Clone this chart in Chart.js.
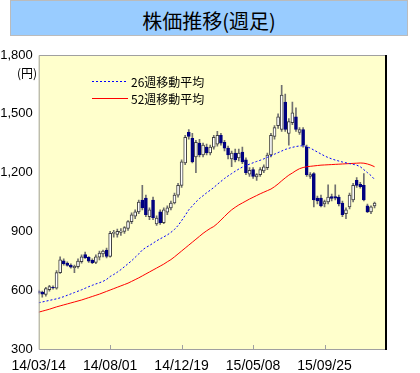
<!DOCTYPE html>
<html>
<head>
<meta charset="utf-8">
<script src="https://cdn.jsdelivr.net/npm/chart.js@4/dist/chart.umd.min.js"></script>
<style>
    body { margin: 0; background: #ffffff; }
    #wrap { position: relative; width: 420px; height: 373px; }
    #chart { position: absolute; left: 0; top: 0; }
    #title {
        position: absolute; left: 10px; top: 0; width: 396px; height: 34px;
        background: #99CCFF; border: 1px solid #BBBBBB;
        font: 20px "Noto Sans CJK JP", sans-serif; color: #000;
        text-align: center; line-height: 40px;
    }
</style>
</head>
<body>
<div id="wrap">
    <canvas id="chart" width="420" height="373"></canvas>
    <div id="title">株価推移(週足)</div>
</div>
<script>
// 週足データ(週番号 = 配列の添字)
const opens  = [595, 590, 578, 603, 615, 610, 690, 750, 738, 728,
                715, 720, 745, 782, 768, 752, 742, 768, 785, 805,
                772, 890, 885, 895, 900, 915, 950, 978, 1000, 1060,
                1070, 975, 1060, 938, 1000, 945, 998, 1020, 1045, 1085,
                1135, 1250, 1405, 1375, 1280, 1350, 1290, 1330, 1300, 1330,
                1345, 1390, 1355, 1325, 1270, 1300, 1275, 1305, 1265, 1192,
                1215, 1178, 1190, 1208, 1225, 1290, 1385, 1440, 1420, 1560,
                1400, 1455, 1485, 1405, 1420, 1330, 1180, 1195, 1070, 1070,
                1040, 1050, 1078, 1078, 1075, 1045, 990, 1025, 1060, 1160,
                1140, 1135, 1030, 1000, 1030];
const highs  = [600, 595, 615, 625, 622, 700, 770, 760, 745, 735,
                728, 760, 780, 795, 772, 760, 780, 800, 805, 815,
                900, 905, 912, 915, 925, 955, 995, 1010, 1060, 1135,
                1085, 1020, 1075, 980, 1010, 1020, 1030, 1055, 1095, 1145,
                1265, 1390, 1420, 1400, 1365, 1370, 1350, 1345, 1340, 1390,
                1410, 1400, 1365, 1335, 1310, 1320, 1320, 1330, 1275, 1225,
                1225, 1195, 1225, 1240, 1300, 1400, 1440, 1500, 1645, 1600,
                1475, 1560, 1530, 1430, 1430, 1340, 1200, 1200, 1080, 1085,
                1060, 1137, 1090, 1137, 1085, 1055, 1020, 1095, 1145, 1175,
                1150, 1195, 1040, 1030, 1050];
const lows   = [580, 565, 570, 595, 605, 605, 685, 728, 722, 712,
                690, 712, 738, 762, 742, 735, 735, 755, 770, 765,
                768, 870, 870, 880, 890, 905, 940, 965, 990, 1010,
                975, 960, 960, 930, 935, 940, 985, 1010, 1040, 1075,
                1125, 1240, 1370, 1250, 1200, 1280, 1280, 1290, 1290, 1320,
                1335, 1340, 1310, 1270, 1230, 1255, 1260, 1245, 1190, 1180,
                1170, 1160, 1180, 1200, 1215, 1280, 1370, 1425, 1410, 1410,
                1340, 1445, 1410, 1395, 1330, 1180, 1170, 1025, 1040, 1025,
                1025, 1040, 1055, 1060, 1030, 975, 965, 1015, 1050, 1125,
                1120, 1055, 995, 990, 1020];
const closes = [585, 580, 608, 618, 612, 690, 755, 735, 726, 718,
                722, 748, 770, 765, 748, 740, 770, 790, 800, 772,
                890, 895, 900, 902, 920, 950, 985, 1000, 1050, 1020,
                985, 1010, 970, 968, 945, 1010, 1020, 1045, 1085, 1135,
                1255, 1380, 1385, 1255, 1355, 1290, 1340, 1300, 1330, 1380,
                1390, 1350, 1325, 1290, 1300, 1265, 1300, 1255, 1200, 1212,
                1180, 1190, 1215, 1230, 1290, 1390, 1430, 1485, 1595, 1420,
                1460, 1505, 1420, 1420, 1340, 1190, 1190, 1060, 1055, 1030,
                1052, 1075, 1068, 1070, 1040, 985, 1010, 1085, 1135, 1135,
                1128, 1060, 1000, 1025, 1045];

// 移動平均
const ma26 = [536, 540, 544, 548, 552, 556, 561, 567, 574, 581,
              588, 595, 602, 610, 618, 625, 632, 638, 645, 655,
              670, 680, 692, 705, 720, 735, 750, 768, 785, 805,
              818, 828, 840, 852, 862, 872, 882, 895, 910, 930,
              955, 982, 1010, 1030, 1050, 1068, 1082, 1097, 1110, 1124,
              1140, 1155, 1170, 1183, 1195, 1207, 1218, 1228, 1236, 1243,
              1250, 1257, 1263, 1270, 1278, 1286, 1294, 1302, 1310, 1318,
              1324, 1329, 1333, 1336, 1337, 1333, 1325, 1315, 1305, 1295,
              1285, 1277, 1270, 1264, 1259, 1254, 1250, 1246, 1242, 1238,
              1230, 1215, 1200, 1185, 1165];
const ma52 = [488, 493, 498, 503, 509, 515, 520, 525, 530, 535,
              540, 545, 550, 556, 562, 568, 574, 580, 587, 594,
              601, 608, 615, 622, 629, 636, 645, 654, 663, 673,
              683, 693, 703, 713, 723, 733, 745, 756, 770, 785,
              800, 815, 830, 845, 860, 875, 890, 903, 915, 925,
              940, 958, 976, 994, 1010, 1023, 1035, 1045, 1055, 1065,
              1074, 1083, 1092, 1100, 1108, 1116, 1128, 1142, 1158, 1173,
              1187, 1198, 1210, 1220, 1226, 1230, 1232, 1234, 1236, 1238,
              1239, 1240, 1241, 1242, 1243, 1244, 1245, 1246, 1247, 1248,
              1249, 1248, 1244, 1238, 1230];

// 目盛り
const tickWeeks  = [0, 20, 40, 60, 80];
const tickLabels = ['14/03/14', '14/08/01', '14/12/19', '15/05/08', '15/09/25'];
const legendNames = ['26週移動平均', '52週移動平均'];

const weeks = closes.map((c, i) => i);
const isUp = weeks.map(i => closes[i] >= opens[i]);

// 枠線・凡例などを描くプラグイン
const framePlugin = {
    id: 'frame',
    beforeDatasetsDraw(chart) {
        const { ctx, chartArea: a } = chart;
        ctx.save();
        ctx.fillStyle = '#FFFFCC';
        ctx.fillRect(a.left, a.top, a.right - a.left, a.bottom - a.top);
        ctx.restore();
    },
    afterDraw(chart) {
        const { ctx, chartArea: a, scales } = chart;
        ctx.save();
        // 枠
        ctx.strokeStyle = '#A0A0A0';
        ctx.lineWidth = 1;
        ctx.beginPath();
        ctx.moveTo(a.right, a.top + 0.5);
        ctx.lineTo(a.left + 0.5, a.top + 0.5);
        ctx.lineTo(a.left + 0.5, a.bottom + 0.5);
        ctx.lineTo(a.right, a.bottom + 0.5);
        ctx.stroke();
        ctx.strokeStyle = '#000000';
        ctx.lineWidth = 2;
        ctx.beginPath();
        ctx.moveTo(a.right, a.top);
        ctx.lineTo(a.right, a.bottom + 1);
        ctx.stroke();
        // 内向きの目盛り
        ctx.strokeStyle = '#A0A0A0';
        ctx.lineWidth = 1;
        tickWeeks.slice(1).forEach(w => {
            const x = Math.round(scales.x.getPixelForValue(w)) + 0.5;
            ctx.beginPath();
            ctx.moveTo(x, a.bottom);
            ctx.lineTo(x, a.bottom - 4);
            ctx.stroke();
        });
        // 単位
        ctx.fillStyle = '#000';
        ctx.font = '12px "Noto Sans CJK JP"';
        ctx.textBaseline = 'middle';
        ctx.textAlign = 'right';
        ctx.fillText('(円)', 37, 73);
        // 凡例
        ctx.textAlign = 'left';
        ctx.lineWidth = 1;
        ctx.strokeStyle = '#0000FF';
        ctx.setLineDash([2, 2]);
        ctx.beginPath();
        ctx.moveTo(92, 81.5);
        ctx.lineTo(127, 81.5);
        ctx.stroke();
        ctx.setLineDash([]);
        ctx.strokeStyle = '#FF0000';
        ctx.beginPath();
        ctx.moveTo(92, 98.5);
        ctx.lineTo(128, 98.5);
        ctx.stroke();
        ctx.fillText(legendNames[0], 131, 82);
        ctx.fillText(legendNames[1], 131, 99);
        ctx.restore();
    }
};

const ctx = document.getElementById('chart').getContext('2d');
new Chart(ctx, {
    type: 'bar',
    data: {
        datasets: [
            {
                type: 'line',
                data: weeks.map(i => ({ x: i, y: ma26[i] })),
                borderColor: '#0000FF',
                borderWidth: 1,
                borderDash: [2, 2],
                pointRadius: 0,
                order: 0
            },
            {
                type: 'line',
                data: weeks.map(i => ({ x: i, y: ma52[i] })),
                borderColor: '#FF0000',
                borderWidth: 1,
                pointRadius: 0,
                order: 0
            },
            {
                data: weeks.map(i => ({ x: i, y: [opens[i], closes[i]] })),
                backgroundColor: weeks.map(i => isUp[i] ? '#FFFFFF' : '#000080'),
                borderColor: weeks.map(i => isUp[i] ? '#404040' : '#000080'),
                borderWidth: 1,
                borderSkipped: false,
                barThickness: 3,
                grouped: false,
                order: 1
            },
            {
                data: weeks.map(i => ({ x: i, y: [lows[i], highs[i]] })),
                backgroundColor: '#707070',
                barThickness: 1,
                grouped: false,
                order: 2
            }
        ]
    },
    options: {
        responsive: false,
        animation: false,
        layout: { padding: { top: 55, right: 34, left: 0, bottom: 0 } },
        plugins: {
            legend: { display: false },
            tooltip: { enabled: false }
        },
        scales: {
            x: {
                type: 'linear',
                offset: false,
                min: 0,
                max: 97.2,
                grid: { display: false, drawTicks: false, offset: false },
                border: { display: false },
                afterBuildTicks: s => { s.ticks = tickWeeks.map(v => ({ value: v })); },
                afterFit: s => { s.height = 24; },
                ticks: {
                    autoSkip: false,
                    maxRotation: 0,
                    padding: 9,
                    color: '#000',
                    font: { family: 'Liberation Sans', size: 14 },
                    callback: v => tickLabels[tickWeeks.indexOf(v)]
                }
            },
            y: {
                min: 300,
                max: 1800,
                grid: { display: false, drawTicks: false },
                border: { display: false },
                afterFit: s => { s.width = 38.7; },
                ticks: {
                    stepSize: 300,
                    padding: 6,
                    color: '#000',
                    font: { family: 'Liberation Sans', size: 13 },
                    callback: v => v.toLocaleString('en-US')
                }
            }
        }
    },
    plugins: [framePlugin]
});
</script>
</body>
</html>
